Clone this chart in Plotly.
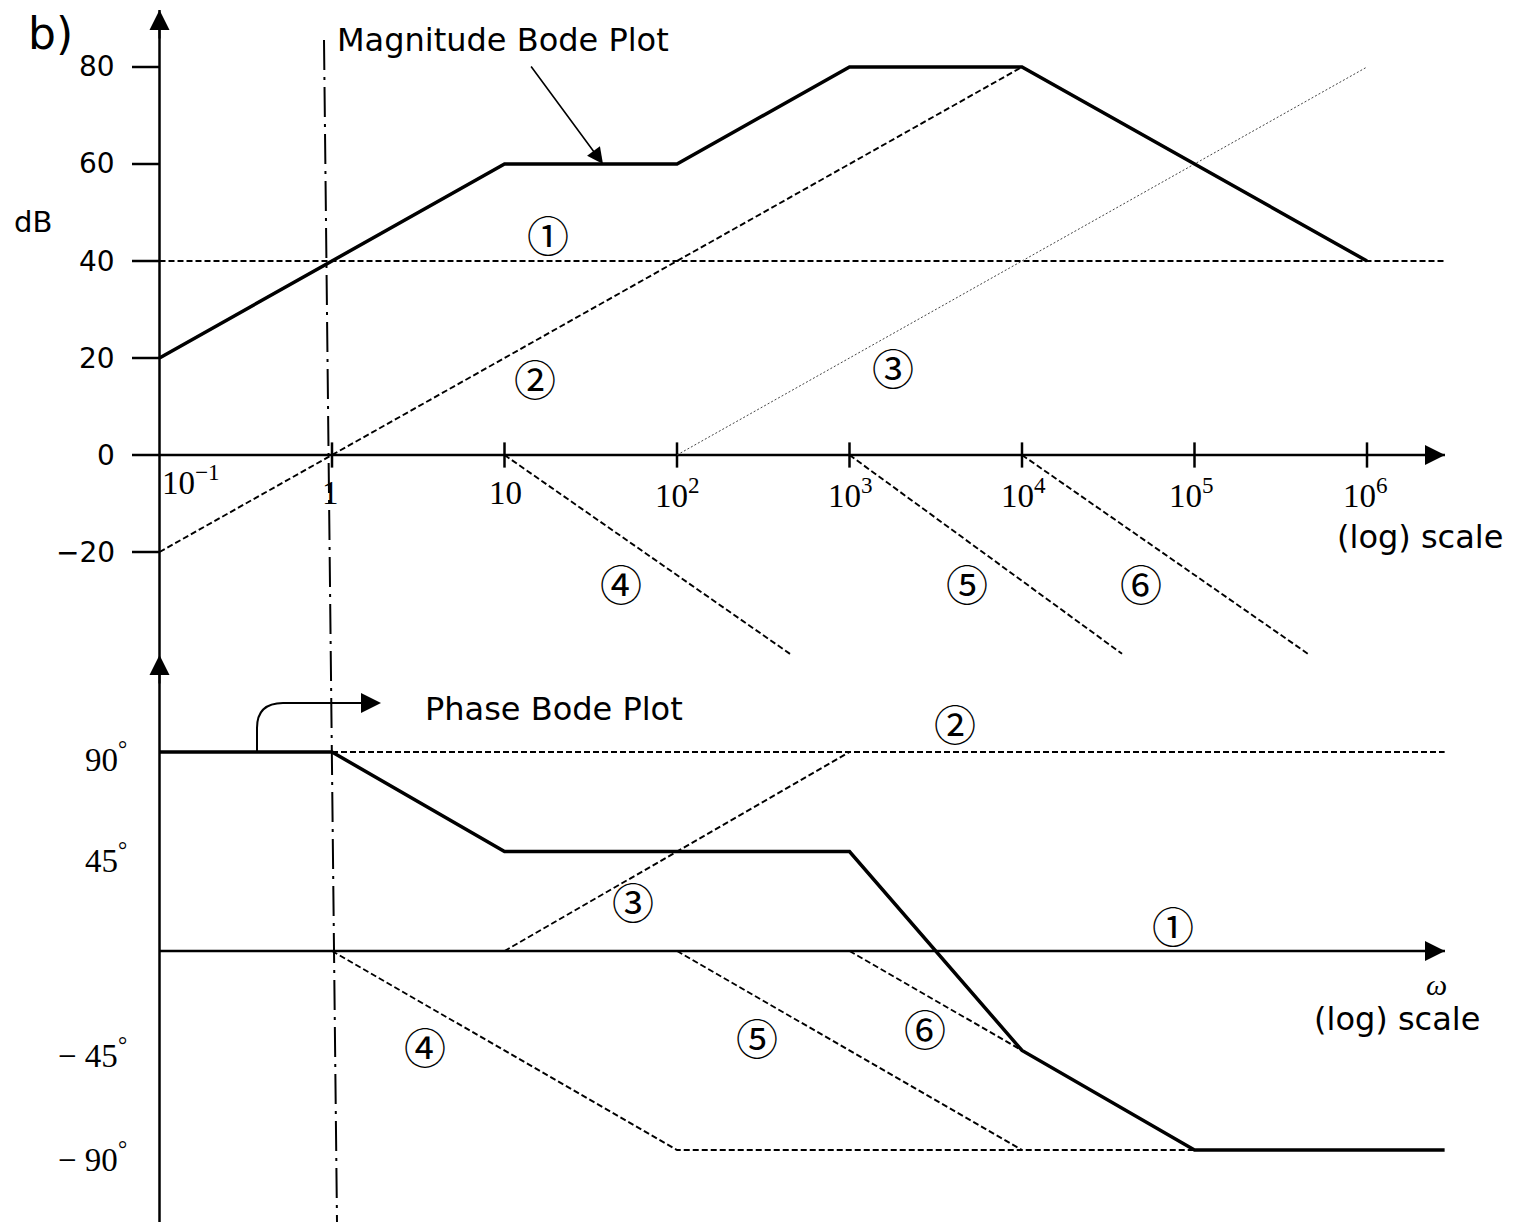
import plotly.graph_objects as go

# ---------------- data (x = log10(omega)) ----------------
decades = [-1, 0, 1, 2, 3, 4, 5, 6]
decade_text = ["10<sup>−1</sup>", "1", "10", "10<sup>2</sup>", "10<sup>3</sup>",
               "10<sup>4</sup>", "10<sup>5</sup>", "10<sup>6</sup>"]
db_ticks = [80, 60, 40, 20, 0, -20]
db_text = ["80", "60", "40", "20", "0", "−20"]
deg_ticks = [90, 45, -45, -90]
deg_text = ["90<sup>°</sup>", "45<sup>°</sup>", "− 45<sup>°</sup>", "− 90<sup>°</sup>"]

# magnitude plot (dB)
mag_x = [-1, 0, 1, 2, 3, 4, 6]
mag_db = [20, 40, 60, 60, 80, 80, 40]
m1_x, m1_db = [-1, 6.45], [40, 40]
m2_x, m2_db = [-1, 4], [-20, 80]
m3_x, m3_db = [2, 6], [0, 80]
m4_x, m4_db = [1, 2.655], [0, -41]
m5_x, m5_db = [3, 4.58], [0, -41]
m6_x, m6_db = [4, 5.658], [0, -41]

# phase plot (degrees)
ph_x = [-1, 0, 1, 3, 4, 5, 6.45]
ph_deg = [90, 90, 45, 45, -45, -90, -90]
p2_x, p2_deg = [0, 6.45], [90, 90]
p3_x, p3_deg = [1, 3], [0, 90]
p4_x, p4_deg = [0, 2, 5], [0, -90, -90]
p5_x, p5_deg = [2, 4], [0, -90]
p6_x, p6_deg = [3, 4], [0, -45]

circ_top = ["①", "②", "③", "④", "⑤", "⑥"]
circ_bot = ["②", "③", "①", "④", "⑤", "⑥"]

# ---------------- layout helpers (pixel placement) ----------------
W, H = 1517, 1231
PX0, PXD = 332.0, 172.5      # px of x=0, px per decade
PY0, PYD = 455.0, 4.85       # px of 0 dB, px per dB
QY0, QYD = 951.0, 2.211      # px of 0 deg, px per degree


def X(px):
    return (px - PX0) / PXD


def DB(py):
    return (PY0 - py) / PYD


def DG(py):
    return (QY0 - py) / QYD


def PX(px):
    return px / W


def PY(py):
    return 1 - py / H


SANS = "DejaVu Sans"
SERIF = "Liberation Serif"
CIRC = "Noto Sans CJK KR"
BLACK = "#000000"
DASH = "6px,3px"

fig = go.Figure()


def line(xs, ys, axis="y", width=2.0, dash="solid", color=BLACK):
    fig.add_trace(go.Scatter(x=xs, y=ys, yaxis=axis, mode="lines",
                             line=dict(color=color, width=width, dash=dash),
                             hoverinfo="skip", showlegend=False))


# axes lines
line([X(132), 6.452], [0, 0], width=2.5)
line([-1, -1], [DB(10), DB(655)], width=2.5)
line([-1, 6.452], [0, 0], axis="y2", width=2.5)
line([-1, -1], [DG(655), DG(1222)], axis="y2", width=2.5)

# ticks (top plot)
tx, ty = [], []
for d in decades[1:]:
    tx += [d, d, None]
    ty += [2.6, -2.6, None]
line(tx, ty, width=2.5)
tx, ty = [], []
for v in db_ticks:
    if v == 0:
        continue
    tx += [X(132), -1, None]
    ty += [v, v, None]
line(tx, ty, width=2.5)

# magnitude components
line(m1_x, m1_db, dash=DASH, width=1.9)
line(m2_x, m2_db, dash=DASH, width=1.9)
line(m3_x, m3_db, dash="2px,2px", width=1.0, color="#444444")
line(m4_x, m4_db, dash=DASH, width=1.9)
line(m5_x, m5_db, dash=DASH, width=1.9)
line(m6_x, m6_db, dash=DASH, width=1.9)
line(mag_x, mag_db, width=3.5)

# phase components
line(p2_x, p2_deg, axis="y2", dash=DASH, width=1.9)
line(p3_x, p3_deg, axis="y2", dash=DASH, width=1.9)
line(p4_x, p4_deg, axis="y2", dash=DASH, width=1.9)
line(p5_x, p5_deg, axis="y2", dash=DASH, width=1.9)
line(p6_x, p6_deg, axis="y2", dash=DASH, width=1.9)
line(ph_x, ph_deg, axis="y2", width=3.5)

shapes = []
# dash-dot vertical guide at omega = 1
shapes.append(dict(type="line", xref="x", yref="paper",
                   x0=X(324), y0=PY(40), x1=X(337), y1=PY(1222),
                   line=dict(color=BLACK, width=2, dash="30px,7px,3px,7px")))
# curved pointer for Phase Bode Plot
x_a, x_b, x_c = X(257), X(283), X(362)
shapes.append(dict(type="path", xref="x", yref="y2",
                   path=(f"M {x_a},90 L {x_a},{DG(728)} "
                         f"Q {x_a},{DG(703)} {x_b},{DG(703)} L {x_c},{DG(703)}"),
                   line=dict(color=BLACK, width=2)))

ann = []


def txt(s, px, py, size, family=SANS, xanchor="center", yanchor="middle"):
    ann.append(dict(text=s, x=PX(px), y=PY(py), xref="paper", yref="paper",
                    showarrow=False, xanchor=xanchor, yanchor=yanchor,
                    font=dict(family=family, size=size, color=BLACK)))


def arrow(x, y, ax, ay, yref="y", width=2, size=2.0):
    ann.append(dict(text="", x=x, y=y, xref="x", yref=yref, ax=ax, ay=ay,
                    axref="pixel", ayref="pixel", showarrow=True, arrowhead=2,
                    arrowwidth=width, arrowsize=size, arrowcolor=BLACK))


# axis arrowheads
arrow(-1, DB(10), 0, 30)
arrow(6.452, 0, -30, 0)
arrow(-1, DG(655), 0, 30, yref="y2")
arrow(6.452, 0, -30, 0, yref="y2")
# pointer arrows
arrow(X(603), 60, -73, -99, width=1.6, size=2.0)
arrow(X(381), DG(703), -22, 0, yref="y2", width=2, size=2.0)

# texts
txt("b)", 26, 33, 44, xanchor="left")
txt("dB", 12, 222, 29, xanchor="left")
txt("Magnitude Bode Plot", 335, 40, 32, xanchor="left")
txt("Phase Bode Plot", 423, 709, 32, xanchor="left")
txt("(log) scale", 1505, 537, 32, xanchor="right")
txt("(log) scale", 1482, 1019, 32, xanchor="right")
txt("<i>ω</i>", 1436, 984, 30, family=SERIF)

for v, s in zip(db_ticks, db_text):
    py = PY0 - PYD * v
    txt(s, 117, py, 28, xanchor="right")

xlab_px = [160, 330, 506, 677, 850, 1023, 1191, 1365]
xlab_py = [480, 493, 493, 493, 493, 493, 493, 493]
for i, (s, px, py) in enumerate(zip(decade_text, xlab_px, xlab_py)):
    txt(s, px, py, 33, family=SERIF, xanchor="left" if i == 0 else "center")

deg_py = [757, 858, 1053, 1157]
for s, py in zip(deg_text, deg_py):
    txt(s, 129, py, 33, family=SERIF, xanchor="right")

top_pos = [(548, 233), (535, 377), (893, 367), (621, 582), (967, 582), (1141, 582)]
bot_pos = [(955, 722), (633, 901), (1173, 924), (425, 1045), (757, 1036), (925, 1027)]
for s, (px, py) in zip(circ_top, top_pos):
    txt(s, px, py, 42, family=CIRC)
for s, (px, py) in zip(circ_bot, bot_pos):
    txt(s, px, py, 42, family=CIRC)

fig.update_layout(
    width=W, height=H,
    margin=dict(l=0, r=0, t=0, b=0, pad=0),
    paper_bgcolor="white", plot_bgcolor="white",
    showlegend=False,
    xaxis=dict(range=[X(0), X(W)], visible=False, fixedrange=True),
    yaxis=dict(range=[DB(H), DB(0)], visible=False, fixedrange=True),
    yaxis2=dict(range=[DG(H), DG(0)], visible=False, overlaying="y",
                anchor="x", fixedrange=True),
    shapes=shapes,
    annotations=ann,
)

fig.write_html("out.html", config={"displayModeBar": False},
               post_script="document.body.style.margin='0';document.body.style.overflow='hidden';")
